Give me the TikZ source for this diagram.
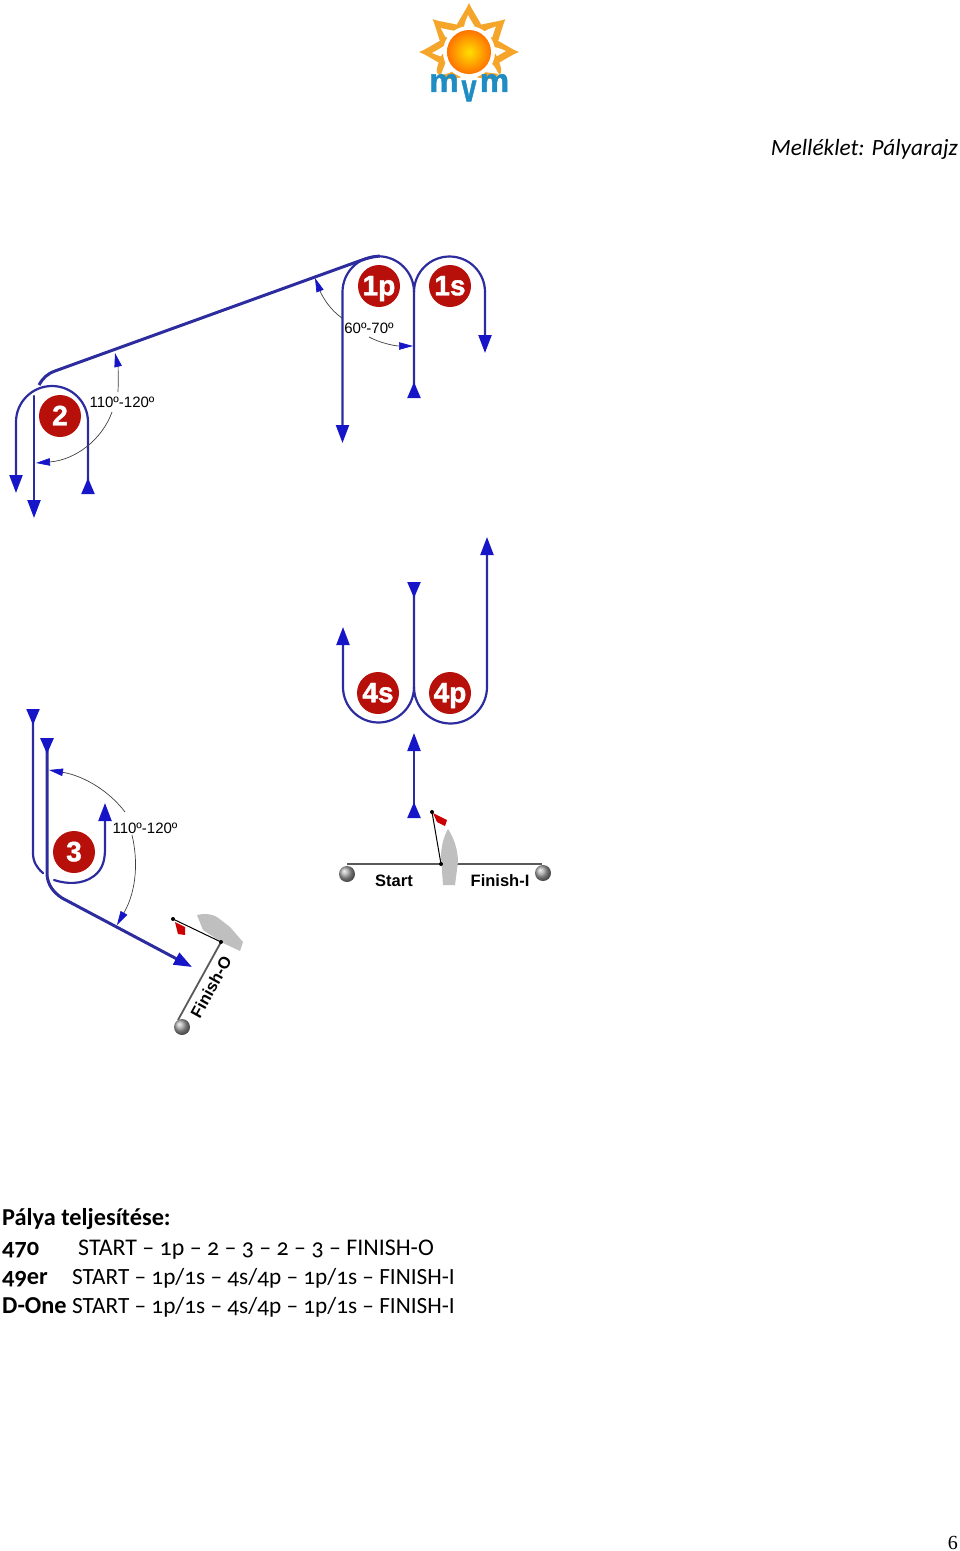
\documentclass[tikz,border=0pt]{standalone}
\usepackage{fontspec}
\setmainfont{Carlito}[Numbers=OldStyle]
\newfontfamily\figfont{Liberation Sans}
\newfontfamily\logofont{Liberation Sans}[BoldFeatures={FakeBold=1.5}]
\newfontfamily\pagefont{Liberation Serif}
\usetikzlibrary{arrows.meta}

\definecolor{lineblue}{HTML}{2C2C9E}
\definecolor{tipblue}{HTML}{1616C8}
\definecolor{markred}{HTML}{B70F0A}
\definecolor{logoblue}{HTML}{1F8CC4}
\definecolor{rayorange}{HTML}{F4A52A}

\tikzset{
  course/.style={draw=lineblue, line width=2.2pt, line cap=round},
  layline/.style={draw=lineblue, line width=3pt},
  bigtip/.tip={Triangle[width=13pt,length=18pt,color=tipblue]},
  bigback/.tip={Triangle[width=13pt,length=16pt,color=tipblue,reversed]},
  angleline/.style={draw=black!75, line width=0.7pt, -{Triangle[width=7.5pt,length=14pt,color=tipblue]}},
  roundmark/.style={circle, fill=markred, minimum size=42pt, inner sep=0pt, text=white, text height=18.5pt, text depth=0pt, font=\logofont\bfseries\fontsize{28}{28}\selectfont},
  anglelabel/.style={inner sep=0pt, font=\figfont\fontsize{15}{15}\selectfont},
  linelabel/.style={inner sep=0pt, font=\figfont\bfseries\fontsize{16.5}{17}\selectfont},
  logoletter/.style={text=logoblue, inner sep=0pt, font=\logofont\bfseries\fontsize{33}{33}\selectfont},
  buoy/.style={circle, minimum size=16pt, inner sep=0pt, ball color=black!35},
  gateline/.style={draw=black!65, line width=1.8pt},
  pole/.style={draw=black, line width=1pt},
  pagetext/.style={anchor=base west, inner sep=0pt, font=\fontsize{23.25}{24}\selectfont},
  pagehead/.style={anchor=base west, inner sep=0pt, font=\bfseries\fontsize{24.3}{24}\selectfont},
}

\begin{document}
\begin{tikzpicture}[x=1pt,y=-1pt]
\useasboundingbox (0,0) rectangle (960,1551);

% Logo
\foreach \ang/\len in {90/49,42/49,0/50,138/49,180/50,-38/36,218/36} {
  \begin{scope}[shift={(469,52)},rotate=\ang]
    \fill[rayorange] (22,-15) .. controls (34,-9) and (42,-3) .. (\len,0) .. controls (42,3) and (34,9) .. (22,15) -- cycle;
    \fill[white] (25,-5) .. controls (31,-4) and (34,-2) .. (37,-1) .. controls (33,1) and (30,3) .. (25,6) -- cycle;
  \end{scope}
}
\fill[white] (469,52) circle[radius=26pt];
\shade[inner color=yellow!75!orange, outer color=orange!90!red] (469,52) circle[radius=22pt];
\node[logoletter] (logoleft) at (444,83) {m};
\node[logoletter] (logoright) at (494.5,83) {m};
\node[logoletter,yscale=1.45,font=\logofont\bfseries\fontsize{27}{27}\selectfont] (logomiddle) at (469,91) {v};

% Header
\node[anchor=base east, inner sep=0pt, font=\itshape\fontsize{23.3}{24}\selectfont] (title) at (958,155) {Melléklet: Pályarajz};

% Mark 1p and 1s
\node[roundmark] (mark1p) at (379,286) {1p};
\node[roundmark] (mark1s) at (450,286) {1s};
\draw[course,-{bigtip}] (414,292) arc[start angle=0,end angle=180,radius=35.75pt] -- (342.5,443);
\draw[course,{bigback}-{bigtip}] (414,398) -- (414,292) arc[start angle=180,end angle=0,radius=35.5pt] -- (485,353);
\draw[layline] (39,385) .. controls (43,378) and (47,374) .. (55,371) -- (362,260) .. controls (368,258) and (373,256.5) .. (380,256);
\node[anglelabel] (angle1) at (369,328) {60º-70º};
\draw[angleline] (342,318) .. controls (330,310) and (322,296) .. (315,278);
\draw[angleline] (369,337) .. controls (380,343) and (395,346) .. (413,346);

% Mark 2
\node[roundmark] (mark2) at (60,416) {2};
\draw[course,{bigback}-{bigtip}] (88,494) -- (88,422) arc[start angle=0,end angle=180,radius=36pt] -- (16,493);
\draw[course,-{bigtip}] (34,396) -- (34,518);
\node[anglelabel] (angle2) at (122,402) {110º-120º};
\draw[angleline] (118,392) .. controls (118.5,380) and (118,366) .. (115,353);
\draw[angleline] (112,412) .. controls (102,440) and (75,460) .. (36,463);

% Mark 3
\node[roundmark] (mark3) at (74,852) {3};
\draw[course,{bigback}-] (33,709) -- (33,853) .. controls (33,862) and (37,868) .. (43,873);
\draw[course,-{bigtip}] (54,880) .. controls (66,884) and (82,885) .. (94,876) .. controls (103,869) and (105,860) .. (105,848) -- (105,803);
\draw[layline,{bigback}-{bigtip}] (47,738) -- (47,875) .. controls (48,885) and (53,892) .. (62,898) -- (192,967);
\node[anglelabel] (angle3) at (145,828) {110º-120º};
\draw[angleline] (125,812) .. controls (110,792) and (85,776) .. (49,770);
\draw[angleline] (132,835) .. controls (138,860) and (137,890) .. (117,925);

% Mark 4s and 4p
\node[roundmark] (mark4s) at (378,693) {4s};
\node[roundmark] (mark4p) at (450,693) {4p};
\draw[course,{bigback}-{bigtip}] (414,582) -- (414,687) arc[start angle=360,end angle=180,radius=35.5pt] -- (343,627);
\draw[course,-{bigtip}] (414,687) arc[start angle=180,end angle=360,radius=36.5pt] -- (487,537);

% Start and Finish-I
\draw[course,{bigback}-{bigtip}] (414,818) -- (414,733);
\node[buoy] (buoystart) at (347,874) {};
\node[buoy] (buoyfinish) at (543,873) {};
\draw[gateline] (347,864) -- (441,864) -- (542,864);
\fill[black!25] (448,829) .. controls (444,836) and (441,846) .. (441,857) -- (443,885) -- (455,885) -- (458,862) .. controls (458,850) and (454,838) .. (448,829) -- cycle;
\draw[pole] (441,864) -- (432,812);
\fill (441,864) circle[radius=2pt] (432,812) circle[radius=2pt];
\fill[red!80!black] (433,813) -- (447,820) -- (445,826) -- (437,822) -- cycle;
\node[linelabel] (startlabel) at (394,881) {Start};
\node[linelabel] (finishilabel) at (500,881) {Finish-I};

% Finish-O
\fill[black!25] (197,915) .. controls (204,913) and (212,914) .. (217,917) -- (230,927) -- (243,942) -- (240,951) -- (223,943) -- (203,930) -- cycle;
\draw[gateline] (221,942) -- (178,1020);
\node[buoy] (buoyo) at (182,1027) {};
\draw[pole] (173,919) -- (221,942);
\fill (173,919) circle[radius=2pt] (221,942) circle[radius=2pt];
\fill[red!80!black] (175,922) -- (185,927) -- (185,935) -- (178,934) -- cycle;
\node[linelabel,rotate=61] (finisholabel) at (211,987) {Finish-O};

% Course list
\node[pagehead] (listtitle) at (2,1225) {Pálya teljesítése:};
\node[pagehead] (class470) at (2,1255) {470};
\node[pagetext,font=\fontsize{23.9}{24}\selectfont] (course470) at (78,1255) {START – 1p – 2 – 3 – 2 – 3 – FINISH-O};
\node[pagehead] (class49er) at (2,1284) {49er};
\node[pagetext] (course49er) at (72,1284) {START – 1p/1s – 4s/4p – 1p/1s – FINISH-I};
\node[pagehead] (classdone) at (2,1313) {D-One};
\node[pagetext] (coursedone) at (72,1313) {START – 1p/1s – 4s/4p – 1p/1s – FINISH-I};

% Page number
\node[anchor=base east, inner sep=0pt, font=\pagefont\fontsize{20}{20}\selectfont] (pagenum) at (958,1549.5) {6};

\end{tikzpicture}
\end{document}
